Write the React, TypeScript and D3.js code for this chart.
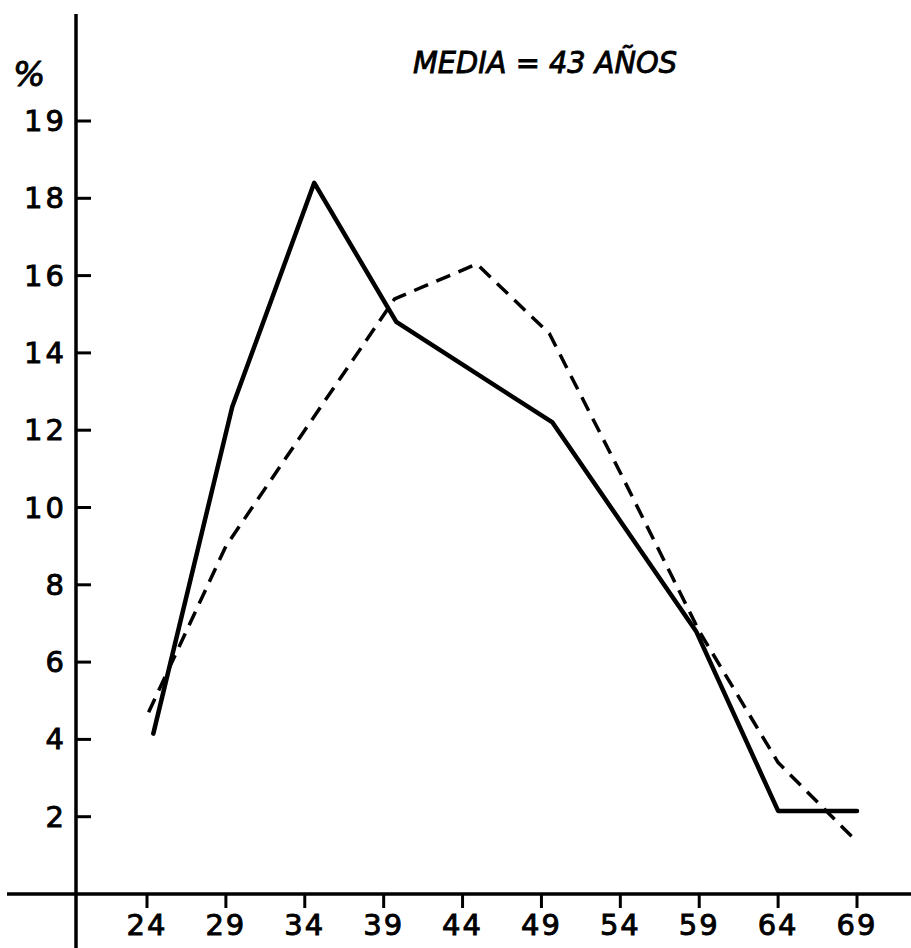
import { useMemo } from "react";
import * as d3 from "d3";

const WIDTH = 911;
const HEIGHT = 948;

// axis positions in the scan
const AXIS_X = 76;
const AXIS_Y = 894;

// age ticks on the x axis
const ageTicks = [24, 29, 34, 39, 44, 49, 54, 59, 64, 69];

// y ticks: values and the labels as written on the original (top one reads "19")
const pctTicks = [2, 4, 6, 8, 10, 12, 14, 16, 18, 20];
const pctLabels = ["2", "4", "6", "8", "10", "12", "14", "16", "18", "19"];

// solid series (ages, points are slightly off the ticks)
const solidAges = [24.4, 29.4, 34.6, 39.8, 49.7, 58.8, 64, 69];
const solidPct = [4.15, 12.6, 18.4, 14.8, 12.2, 6.8, 2.15, 2.15];

// dashed series
const dashedAges = [24.1, 29, 34, 39.7, 44.9, 49.5, 54, 59, 64, 69];
const dashedPct = [4.7, 9.0, 12.0, 15.4, 16.3, 14.5, 10.9, 6.8, 3.4, 1.35];

const FONT = "'DejaVu Sans', 'Liberation Sans', sans-serif";

type Pt = { age: number; pct: number };

export default function App() {
  const xScale = useMemo(
    () => d3.scaleLinear().domain([24, 69]).range([147, 857]),
    []
  );
  const yScale = useMemo(
    () => d3.scaleLinear().domain([0, 20]).range([AXIS_Y, 121]),
    []
  );

  const line = d3
    .line<Pt>()
    .x((d) => xScale(d.age))
    .y((d) => yScale(d.pct));

  const solid: Pt[] = solidAges.map((a, i) => ({ age: a, pct: solidPct[i] }));
  const dashed: Pt[] = dashedAges.map((a, i) => ({ age: a, pct: dashedPct[i] }));

  // hand lettering is heavier than the plain font
  const ink = { fill: "#000", stroke: "#000", strokeWidth: 0.9 };

  return (
    <svg
      width={WIDTH}
      height={HEIGHT}
      style={{ position: "absolute", top: 0, left: 0, background: "#fff" }}
    >
      {/* axes */}
      <line x1={AXIS_X} x2={AXIS_X} y1={14} y2={HEIGHT} stroke="#000" strokeWidth={3.5} />
      <line x1={7} x2={WIDTH} y1={AXIS_Y} y2={AXIS_Y} stroke="#000" strokeWidth={3.5} />

      {/* y ticks */}
      {pctTicks.map((v, i) => (
        <g key={v}>
          <line
            x1={AXIS_X}
            x2={AXIS_X + 15}
            y1={yScale(v)}
            y2={yScale(v)}
            stroke="#000"
            strokeWidth={3}
          />
          <text
            x={AXIS_X - 9}
            y={yScale(v)}
            textAnchor="end"
            dominantBaseline="central"
            fontFamily={FONT}
            fontSize={29}
            letterSpacing={3}
            {...ink}
          >
            {pctLabels[i]}
          </text>
        </g>
      ))}

      {/* x ticks */}
      {ageTicks.map((a) => (
        <g key={a}>
          <line
            x1={xScale(a)}
            x2={xScale(a)}
            y1={AXIS_Y}
            y2={AXIS_Y + 14}
            stroke="#000"
            strokeWidth={3}
          />
          <text
            x={xScale(a)}
            y={935}
            textAnchor="middle"
            fontFamily={FONT}
            fontSize={29}
            letterSpacing={2}
            {...ink}
          >
            {a}
          </text>
        </g>
      ))}

      {/* unit and note */}
      <text x={13} y={86} fontFamily={FONT} fontStyle="italic" fontSize={34} {...ink}>
        %
      </text>
      <text
        x={413}
        y={73}
        fontFamily={FONT}
        fontStyle="italic"
        fontSize={31}
        textLength={264}
        lengthAdjust="spacingAndGlyphs"
        {...ink}
      >
        MEDIA = 43 AÑOS
      </text>

      {/* series */}
      <path
        d={line(dashed) ?? ""}
        fill="none"
        stroke="#000"
        strokeWidth={3.5}
        strokeDasharray="15 9"
        strokeLinejoin="round"
      />
      <path
        d={line(solid) ?? ""}
        fill="none"
        stroke="#000"
        strokeWidth={4.5}
        strokeLinejoin="round"
        strokeLinecap="round"
      />
    </svg>
  );
}
